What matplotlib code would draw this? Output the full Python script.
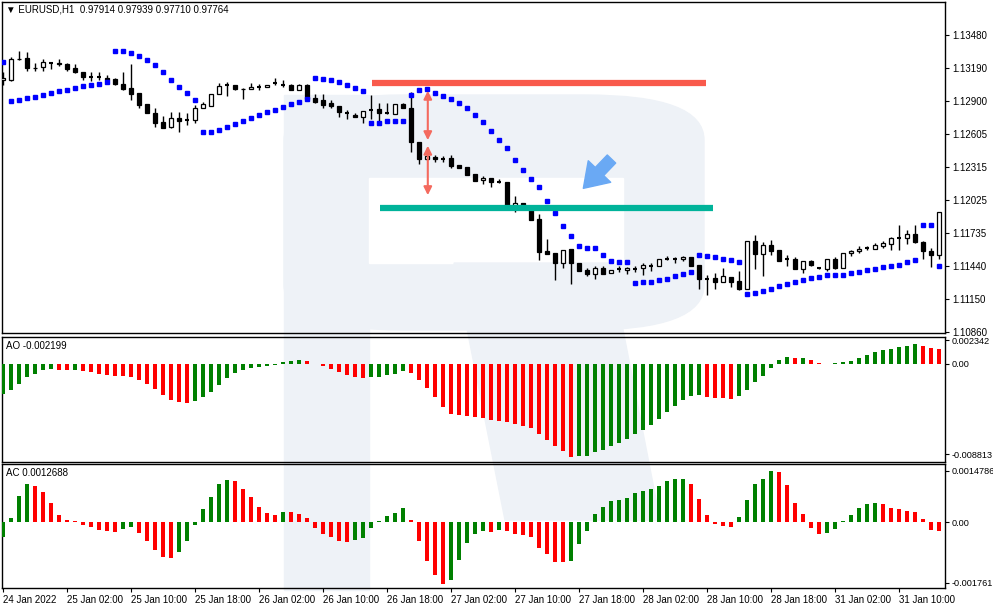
import matplotlib
matplotlib.use("Agg")
import matplotlib.pyplot as plt
from matplotlib.patches import Rectangle, FancyBboxPatch, Polygon
import numpy as np

plt.rcParams['font.family'] = ['Liberation Sans', 'DejaVu Sans']

opens = [1.13083,1.13083,1.13269,1.13277,1.13189,1.13198,1.13233,1.13230,1.13225,1.13189,
1.13154,1.13110,1.13107,1.13104,1.13092,1.13048,1.13013,1.12969,1.12872,1.12792,
1.12713,1.12669,1.12748,1.12731,1.12728,1.12836,1.12854,1.12960,1.13039,1.13039,
1.13004,1.13000,1.13022,1.13022,1.13057,1.13039,1.13039,1.12995,1.13039,1.12925,
1.12907,1.12880,1.12854,1.12792,1.12775,1.12757,1.12819,1.12828,1.12792,1.12784,
1.12872,1.12836,1.12537,1.12387,1.12404,1.12387,1.12395,1.12334,1.12316,1.12254,
1.12201,1.12219,1.12184,1.12184,1.11963,1.11999,1.11946,1.11857,1.11575,1.11556,
1.11469,1.11593,1.11469,1.11408,1.11372,1.11425,1.11381,1.11416,1.11408,1.11416,
1.11425,1.11443,1.11443,1.11505,1.11502,1.11505,1.11522,1.11452,1.11328,1.11337,
1.11302,1.11346,1.11311,1.11240,1.11663,1.11549,1.11628,1.11584,1.11505,1.11505,
1.11416,1.11487,1.11425,1.11416,1.11505,1.11425,1.11556,1.11575,1.11602,1.11593,
1.11619,1.11637,1.11690,1.11690,1.11725,1.11655,1.11575,1.11540]
closes = [1.13101,1.13269,1.13265,1.13189,1.13185,1.13242,1.13230,1.13225,1.13180,1.13154,
1.13110,1.13107,1.13104,1.13083,1.13048,1.13004,1.12960,1.12863,1.12792,1.12704,
1.12660,1.12748,1.12722,1.12728,1.12836,1.12872,1.12960,1.13030,1.13036,1.13004,
1.13000,1.13022,1.13019,1.13039,1.13054,1.13036,1.12995,1.13039,1.12916,1.12889,
1.12863,1.12854,1.12801,1.12789,1.12757,1.12810,1.12816,1.12792,1.12789,1.12872,
1.12836,1.12537,1.12387,1.12413,1.12387,1.12384,1.12325,1.12307,1.12246,1.12193,
1.12219,1.12184,1.12181,1.11963,1.11999,1.11946,1.11849,1.11566,1.11549,1.11469,
1.11584,1.11469,1.11399,1.11372,1.11425,1.11372,1.11408,1.11413,1.11425,1.11413,
1.11452,1.11440,1.11505,1.11502,1.11499,1.11522,1.11443,1.11328,1.11325,1.11302,
1.11355,1.11302,1.11240,1.11663,1.11549,1.11628,1.11575,1.11487,1.11502,1.11416,
1.11487,1.11452,1.11422,1.11505,1.11425,1.11556,1.11575,1.11593,1.11599,1.11628,
1.11646,1.11690,1.11687,1.11725,1.11655,1.11575,1.11540,1.11919]
highs = [1.13154,1.13286,1.13339,1.13330,1.13233,1.13269,1.13236,1.13269,1.13233,1.13225,
1.13154,1.13154,1.13154,1.13128,1.13101,1.13154,1.13225,1.12969,1.12872,1.12836,
1.12766,1.12801,1.12801,1.12792,1.12863,1.12889,1.12960,1.13057,1.13066,1.13039,
1.13013,1.13057,1.13048,1.13039,1.13101,1.13083,1.13048,1.13048,1.13048,1.12960,
1.12960,1.12907,1.12854,1.12819,1.12792,1.12810,1.12951,1.12880,1.12880,1.12872,
1.12880,1.12978,1.12537,1.12422,1.12422,1.12413,1.12422,1.12334,1.12316,1.12254,
1.12237,1.12219,1.12210,1.12184,1.12060,1.11999,1.11946,1.11902,1.11680,1.11556,
1.11584,1.11593,1.11469,1.11425,1.11443,1.11443,1.11408,1.11443,1.11434,1.11443,
1.11469,1.11469,1.11505,1.11531,1.11522,1.11531,1.11522,1.11452,1.11364,1.11381,
1.11425,1.11346,1.11399,1.11663,1.11716,1.11655,1.11672,1.11584,1.11540,1.11522,
1.11487,1.11496,1.11434,1.11505,1.11522,1.11556,1.11584,1.11619,1.11619,1.11646,
1.11663,1.11699,1.11805,1.11760,1.11805,1.11663,1.11602,1.11919]
lows = [1.13039,1.13075,1.13260,1.13163,1.13163,1.13163,1.13180,1.13207,1.13163,1.13145,
1.13083,1.13075,1.13083,1.13080,1.13039,1.12995,1.12907,1.12836,1.12792,1.12669,
1.12660,1.12660,1.12625,1.12687,1.12704,1.12836,1.12854,1.12960,1.12942,1.12995,
1.12916,1.13000,1.12995,1.13022,1.13039,1.13022,1.12995,1.12995,1.12916,1.12880,
1.12836,1.12836,1.12757,1.12739,1.12757,1.12704,1.12739,1.12704,1.12784,1.12784,
1.12836,1.12448,1.12343,1.12378,1.12360,1.12360,1.12307,1.12307,1.12246,1.12193,
1.12166,1.12139,1.12175,1.11954,1.11919,1.11936,1.11849,1.11496,1.11549,1.11319,
1.11425,1.11284,1.11399,1.11355,1.11328,1.11372,1.11381,1.11390,1.11372,1.11390,
1.11364,1.11399,1.11443,1.11496,1.11469,1.11487,1.11443,1.11240,1.11187,1.11240,
1.11302,1.11258,1.11231,1.11240,1.11416,1.11355,1.11540,1.11487,1.11443,1.11416,
1.11381,1.11443,1.11416,1.11399,1.11416,1.11425,1.11531,1.11556,1.11584,1.11593,
1.11602,1.11584,1.11584,1.11637,1.11646,1.11505,1.11434,1.11505]
sar = [1.13242,1.12898,1.12907,1.12925,1.12933,1.12951,1.12969,1.12986,1.12995,1.13013,
1.13030,1.13039,1.13048,1.13066,1.13339,1.13339,1.13322,1.13295,1.13260,1.13216,
1.13154,1.13083,1.13022,1.12969,1.12907,1.12625,1.12625,1.12642,1.12669,1.12695,
1.12722,1.12748,1.12775,1.12801,1.12819,1.12845,1.12872,1.12889,1.12916,1.13101,
1.13092,1.13083,1.13066,1.13039,1.13013,1.12986,1.12704,1.12704,1.12722,1.12722,
1.12722,1.12951,1.12995,1.13004,1.12969,1.12942,1.12916,1.12880,1.12836,1.12775,
1.12713,1.12634,1.12554,1.12484,1.12378,1.12290,1.12210,1.12140,1.12016,1.11910,
1.11796,1.11707,1.11619,1.11602,1.11602,1.11540,1.11487,1.11478,1.11478,1.11293,
1.11302,1.11302,1.11319,1.11328,1.11355,1.11372,1.11390,1.11540,1.11531,1.11522,
1.11505,1.11496,1.11478,1.11196,1.11205,1.11222,1.11240,1.11266,1.11284,1.11302,
1.11319,1.11337,1.11346,1.11364,1.11364,1.11364,1.11381,1.11390,1.11408,1.11416,
1.11434,1.11443,1.11452,1.11478,1.11496,1.11805,1.11805,1.11443]
# Awesome Oscillator, in pips (x 0.0001)
ao_pips = [-29.0,-25.1,-19.2,-12.4,-9.5,-5.5,-4.6,-5.5,-5.6,-5.4,-6.5,-7.5,-9.5,-10.4,-11.4,-11.5,
-12.4,-15.3,-19.2,-24.1,-30.0,-34.9,-36.8,-37.8,-35.9,-31.9,-27.1,-20.2,-13.4,-8.5,-5.5,-3.6,
-2.6,-2.0,-0.7,2.3,3.3,4.2,2.9,0.3,-1.6,-4.6,-7.5,-10.4,-12.4,-13.4,-12.4,-12.3,-10.4,-9.5,
-6.5,-8.5,-15.3,-23.1,-31.9,-41.7,-48.6,-49.6,-50.5,-51.5,-52.5,-54.4,-55.4,-56.4,-58.4,-60.3,
-62.3,-68.1,-74.0,-79.9,-84.8,-90.6,-90.5,-89.7,-85.7,-83.8,-79.9,-76.9,-73.0,-68.1,-64.2,-59.3,
-53.5,-46.6,-40.8,-34.9,-31.0,-30.0,-31.9,-32.9,-33.0,-33.9,-31.0,-25.1,-17.3,-11.4,-3.6,3.9,
6.8,5.9,6.0,4.2,1.0,-0.3,1.0,2.0,2.9,5.9,8.8,11.7,13.7,14.7,17.0,17.6,19.6,17.6,15.6,14.7]
# Accelerator Oscillator, in pips
ac_pips = [-4.2,1.2,7.6,11.1,10.5,8.8,5.5,2.0,0.6,0.3,-0.8,-1.3,-2.2,-2.5,-2.8,-1.9,-1.3,-3.1,
-5.4,-8.0,-10.0,-10.3,-8.6,-5.4,-0.8,3.8,7.3,10.9,12.1,11.9,9.6,7.3,4.4,2.7,2.0,3.0,2.9,2.4,
1.2,-1.6,-3.4,-4.2,-5.4,-5.9,-5.1,-4.5,-1.6,0.3,1.7,2.7,4.1,0.6,-5.4,-11.2,-15.2,-17.8,-16.7,
-10.9,-6.0,-3.4,-2.5,-2.8,-2.2,-2.5,-3.4,-3.7,-4.2,-7.4,-9.4,-11.5,-11.6,-11.2,-6.5,-2.5,2.3,
4.3,6.1,6.4,6.9,8.4,9.0,9.5,10.4,11.8,12.4,12.5,11.0,6.6,2.0,-0.5,-1.1,-1.3,1.4,6.4,11.0,12.4,
14.7,14.4,10.7,5.5,2.3,-1.7,-3.4,-3.3,-1.9,0.3,2.0,4.0,5.2,5.5,5.2,4.0,3.8,3.2,2.9,0.9,-2.3,-2.5]
price_ticks = [1.13480,1.13190,1.12900,1.12605,1.12315,1.12025,1.11735,1.11440,1.11150,1.10860]
time_labels = ['24 Jan 2022','25 Jan 02:00','25 Jan 10:00','25 Jan 18:00','26 Jan 02:00',
'26 Jan 10:00','26 Jan 18:00','27 Jan 02:00','27 Jan 10:00','27 Jan 18:00','28 Jan 02:00',
'28 Jan 10:00','28 Jan 18:00','31 Jan 02:00','31 Jan 10:00']
resistance = 1.13057
support = 1.11954

W, H = 993, 610
fig = plt.figure(figsize=(W/100, H/100), dpi=100)
fig.patch.set_facecolor('white')
FS = 7

def fr(x0, y0, x1, y1):
    return [x0/W, 1-y1/H, (x1-x0)/W, (y1-y0)/H]

# watermark
wm = '#eef2f7'
def P(x, y): return (x/W, 1-y/H)
fig.add_artist(Rectangle(P(284, 590), 85/W, 495/H, color=wm, zorder=0))
fig.add_artist(FancyBboxPatch(P(284, 330), 420/W, 235/H, boxstyle="round,pad=0,rounding_size=0.12",
                              color=wm, zorder=0, mutation_aspect=H/W))
fig.add_artist(Rectangle(P(369, 263), 254/W, 85/H, color='white', zorder=0))
fig.add_artist(Polygon([P(454, 263), P(610, 263), P(660, 520), P(505, 520)], color=wm, zorder=0))

ax1 = fig.add_axes(fr(2, 2, 945, 333))
ax2 = fig.add_axes(fr(2, 337, 945, 462), sharex=ax1)
ax3 = fig.add_axes(fr(2, 464, 945, 588), sharex=ax1)
n = len(closes)
x = np.arange(n)
for ax in (ax1, ax2, ax3):
    ax.set_facecolor('none')
    ax.yaxis.tick_right()
    ax.tick_params(axis='y', labelsize=FS, length=3, pad=2)
    for s in ax.spines.values():
        s.set_linewidth(1.0)
for ax in (ax2, ax3):
    ax.tick_params(axis='y', labelsize=6.6, pad=1.5)
ax1.set_xlim(-0.125, 117.75)

# candles
bw = 0.6
for i in range(n):
    o, c, h, l = opens[i], closes[i], highs[i], lows[i]
    ax1.vlines(i, l, h, color='black', lw=1, zorder=3)
    lo, hi = min(o, c), max(o, c)
    if hi - lo < 0.00004:
        ax1.hlines((o+c)/2, i-bw/2, i+bw/2, color='black', lw=1.5, zorder=4)
    else:
        fc = 'white' if c > o else 'black'
        ax1.add_patch(Rectangle((i-bw/2, lo), bw, hi-lo, facecolor=fc, edgecolor='black', lw=0.9, zorder=4))
ax1.plot(x, sar, 's', color='#0000ff', markersize=2.2, zorder=5, lw=0)
ax1.set_ylim(1.10852, 1.13771)
ax1.set_yticks(price_ticks)
ax1.set_yticklabels([f'{v:.5f}' for v in price_ticks])
ax1.tick_params(axis='x', bottom=False, labelbottom=False)

# annotations
ax1.hlines(resistance, 46.1, 87.9, color='#f95a4c', lw=4.5, zorder=6)
ax1.hlines(support, 47.1, 88.75, color='#00b39a', lw=4.5, zorder=6)
for y0, y1 in [(1.12528, 1.13013), (1.12528, 1.12043)]:
    ax1.annotate('', xy=(53.1, y1), xytext=(53.1, y0),
                 arrowprops=dict(arrowstyle='<|-|>', color='#f46a5e', lw=1.5, mutation_scale=12), zorder=7)
ax1.annotate('', xy=(72.3, 1.12110), xytext=(76.3, 1.12404),
             arrowprops=dict(arrowstyle='simple,head_width=1.6,head_length=1.2,tail_width=0.6',
                             color='#6aa9f4', mutation_scale=14), zorder=7)
fig.text(6/W, 1-10/H, '\u25BC EURUSD,H1  0.97914 0.97939 0.97710 0.97764', fontsize=FS, va='center')

def colors(vals):
    cs = []
    for i, v in enumerate(vals):
        cs.append('#008000' if i == 0 or v > vals[i-1] else '#ff0000')
    return cs

ao = np.array(ao_pips) * 1e-4
ax2.bar(x, ao, width=0.6, color=colors(ao_pips), zorder=3)
ax2.set_ylim(-0.00959, 0.00264)
ax2.set_yticks([0.002342, 0.0, -0.008813])
ax2.set_yticklabels(['0.002342', '0.00', '-0.008813'])
ax2.tick_params(axis='x', bottom=False, labelbottom=False)
fig.text(6/W, 1-346/H, 'AO -0.002199', fontsize=FS, va='center')

ac = np.array(ac_pips) * 1e-4
ax3.bar(x, ac, width=0.6, color=colors(ac_pips), zorder=3)
ax3.set_ylim(-0.00191, 0.00168)
ax3.set_yticks([0.0014786, 0.0, -0.001761])
ax3.set_yticklabels(['0.0014786', '0.00', '-0.001761'])
fig.text(6/W, 1-473/H, 'AC 0.0012688', fontsize=FS, va='center')
ax3.set_xticks(np.arange(len(time_labels)) * 8)
ax3.set_xticklabels(time_labels, ha='left', fontsize=FS)
ax3.tick_params(axis='x', length=3, pad=2)

fig.savefig('out.png', dpi=100, facecolor='white')
